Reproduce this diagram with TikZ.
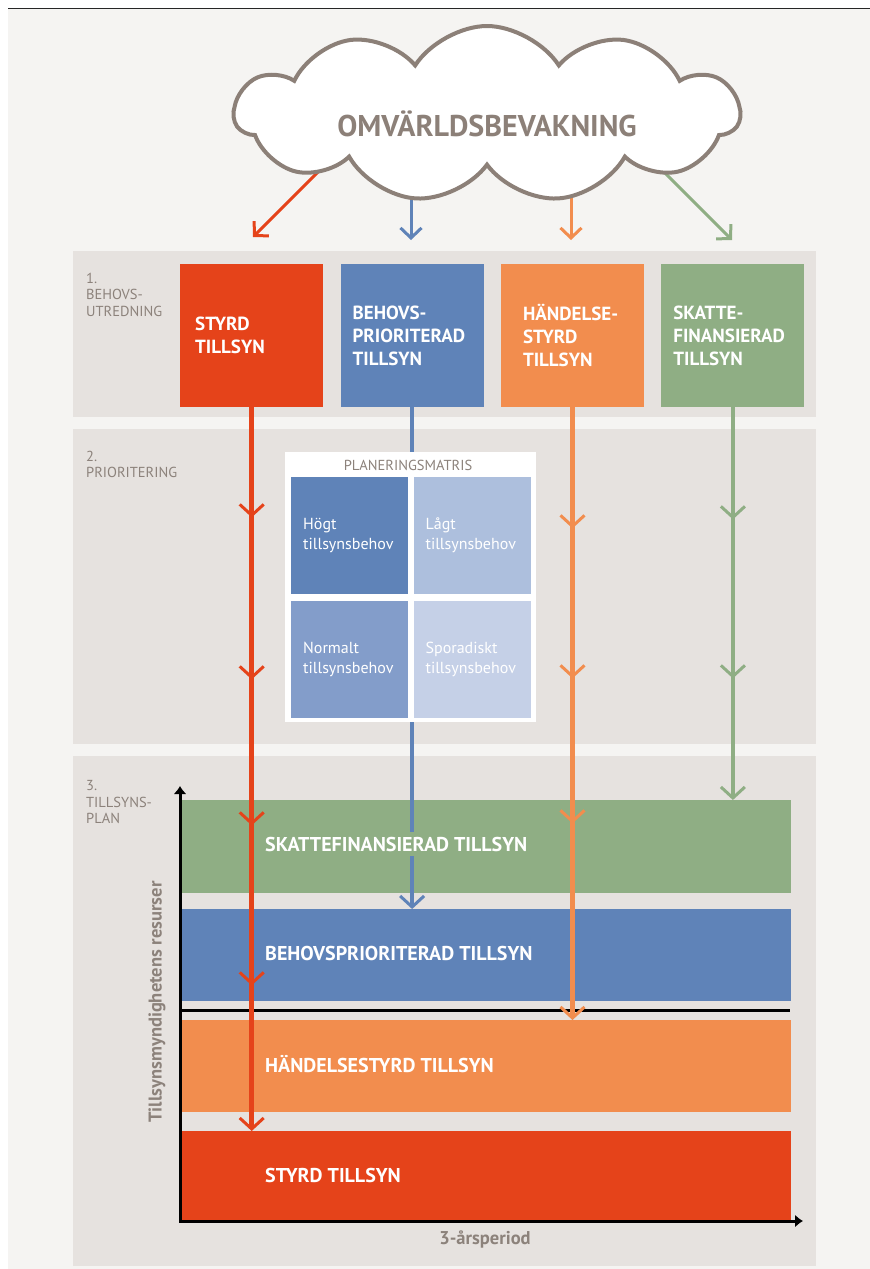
\documentclass[tikz,border=0pt]{standalone}
\usepackage{fontspec}
\setmainfont{PT Sans}
\usetikzlibrary{shapes.symbols,arrows.meta,decorations.markings,positioning}

\definecolor{styrdred}{HTML}{E5431A}
\definecolor{behovblue}{HTML}{5F83B8}
\definecolor{handorange}{HTML}{F28D4E}
\definecolor{skattgreen}{HTML}{8FAE84}
\definecolor{panelgray}{HTML}{E6E2DF}
\definecolor{pagebg}{HTML}{F5F4F2}
\definecolor{labelgray}{HTML}{8C827B}
\definecolor{cloudgray}{HTML}{8C8078}
\definecolor{cellmid}{HTML}{839DCA}
\definecolor{celllight}{HTML}{ADBFDD}
\definecolor{cellpale}{HTML}{C5D0E7}

\pgfdeclarelayer{pagelayer}
\pgfdeclarelayer{underlayer}
\pgfsetlayers{pagelayer,underlayer,main}

\hyphenpenalty=10000

\begin{document}
\begin{tikzpicture}[x=1pt, y=-1pt,
    >={Straight Barb[length=11pt, width=24pt, line width=3pt]},
    panel/.style={fill=panelgray, anchor=north west, inner sep=0pt, minimum width=743pt},
    phase/.style={anchor=north west, inner sep=0pt, align=left, text=labelgray,
      font=\fontsize{14.5}{16.5}\selectfont},
    box/.style={anchor=north west, minimum width=143pt, minimum height=143pt,
      inner xsep=12pt, text width=119pt, align=left, text=white,
      font=\bfseries\fontsize{19}{23}\selectfont},
    cell/.style={minimum width=117pt, minimum height=117pt, inner xsep=12pt,
      text width=93pt, align=left, text=white, font=\fontsize{16}{20}\selectfont},
    bar/.style={anchor=north west, inner sep=0pt, minimum width=610pt},
    barlabel/.style={anchor=base west, inner sep=5pt, text=white,
      font=\bfseries\fontsize{20}{23}\selectfont},
    axislabel/.style={text=labelgray, font=\bfseries\fontsize{18.5}{20}\selectfont},
    cloudarrow/.style={draw=#1, line width=3pt,
      -{Straight Barb[length=10pt, width=21pt, line width=3pt]}},
    flow/.style={color=#1, line width=4.5pt, ->},
    axis/.style={line width=3pt, {Latex[length=8pt, width=13pt]}-{Latex[length=8pt, width=13pt]}}]

  \useasboundingbox (0,0) rectangle (870,1269);

  % page
  \begin{pgfonlayer}{pagelayer}
    \fill[white] (0,0) rectangle (870,1269);
    \fill[pagebg] (8,9) rectangle (870,1269);
    \draw[line width=1.5pt, black!85] (8,8.5) -- (870,8.5);
  \end{pgfonlayer}

  % Cloud
  \node[cloud, cloud puffs=11, cloud puff arc=115, cloud ignores aspect,
    minimum width=505pt, minimum height=176pt, draw=cloudgray, line width=4pt,
    fill=white, text=cloudgray, font=\bfseries\fontsize{30}{32}\selectfont]
    (omv) at (487,114) {\raisebox{-22pt}[0pt][0pt]{OMVÄRLDSBEVAKNING}};

  \coordinate (rtop) at (253,237);
  \coordinate (btop) at (411,240);
  \coordinate (otop) at (571,240);
  \coordinate (gtop) at (732,240);

  \begin{pgfonlayer}{underlayer}
    \draw[cloudarrow=styrdred] ([shift={(75,-75)}]rtop) -- (rtop);
    \draw[cloudarrow=behovblue] (btop |- omv.center) -- (btop);
    \draw[cloudarrow=handorange] (otop |- omv.center) -- (otop);
    \draw[cloudarrow=skattgreen] ([shift={(-75,-75)}]gtop) -- (gtop);
  \end{pgfonlayer}

  % Panels
  \node[panel, minimum height=166pt] (panel1) at (73,251) {};
  \node[panel, minimum height=315pt] (panel2) at (73,429) {};
  \node[panel, minimum height=510pt] (panel3) at (73,756) {};

  \node[phase] (fas1) at (86,272.5) {1.\\BEHOVS-\\UTREDNING};
  \node[phase] (fas2) at (86,450.5) {2.\\PRIORITERING};
  \node[phase] (fas3) at (86,780.5) {3.\\TILLSYNS-\\PLAN};

  % Boxes
  \node[box, fill=styrdred, inner xsep=15pt, text width=113pt] (styrd) at (180,264)
    {STYRD\\TILLSYN};
  \node[box, fill=behovblue, right=17pt of styrd] (behovs)
    {BEHOVS-\\PRIORITERAD\\TILLSYN};
  \node[box, fill=handorange, inner xsep=22pt, text width=99pt, right=17pt of behovs] (handelse)
    {HÄNDELSE-\\STYRD\\TILLSYN};
  \node[box, fill=skattgreen, right=17pt of handelse] (skatt)
    {SKATTE-\\FINANSIERAD\\TILLSYN};

  % Bars
  \node[bar, fill=skattgreen, minimum height=93pt] (skattbar) at (181,800) {};
  \node[bar, fill=behovblue, minimum height=92pt] (behovbar) at (181,909) {};
  \node[bar, fill=handorange, minimum height=92pt] (handbar) at (181,1020) {};
  \node[bar, fill=styrdred, minimum height=90pt] (styrdbar) at (181,1131) {};

  \draw[line width=3pt] (180,1010) -- (790,1010);

  % Flows
  \draw[flow=styrdred, postaction={decorate}, decoration={markings,
      mark=at position 110pt with {\arrow{>}},
      mark=at position 272pt with {\arrow{>}},
      mark=at position 418pt with {\arrow{>}},
      mark=at position 578pt with {\arrow{>}}}]
    (styrd.south) -- (styrd.south |- styrdbar.north);
  \draw[flow=behovblue] (behovs.south) -- (behovs.south |- behovbar.north);
  \draw[flow=handorange, postaction={decorate}, decoration={markings,
      mark=at position 121pt with {\arrow{>}},
      mark=at position 271pt with {\arrow{>}},
      mark=at position 416pt with {\arrow{>}}}]
    (handelse.south) -- (handelse.south |- handbar.north);
  \draw[flow=skattgreen, postaction={decorate}, decoration={markings,
      mark=at position 112pt with {\arrow{>}},
      mark=at position 271pt with {\arrow{>}}}]
    (skatt.south) -- (skatt.south |- skattbar.north);

  % Planeringsmatris
  \node[fill=white, anchor=north west, inner sep=0pt, minimum width=251pt,
    minimum height=270pt] (matris) at (285,452) {};
  \node[text=labelgray, font=\fontsize{14.5}{16}\selectfont] (matristitel) at (408,465)
    {PLANERINGSMATRIS};
  \node[cell, fill=behovblue, anchor=north west] (hogt) at (291,477)
    {Högt\\tillsynsbehov};
  \node[cell, fill=celllight, right=5pt of hogt] (lagt) {Lågt\\tillsynsbehov};
  \node[cell, fill=cellmid, below=6pt of hogt] (normalt) {Normalt\\tillsynsbehov};
  \node[cell, fill=cellpale, right=5pt of normalt] (sporadiskt) {Sporadiskt\\tillsynsbehov};

  % Axes
  \coordinate (origo) at (180,1221);
  \coordinate (ytopp) at (180,786);
  \coordinate (xslut) at (803,1221);
  \draw[axis] (ytopp) -- (origo) -- (xslut);

  \node[barlabel, fill=skattgreen] (skattlbl) at (260,851) {SKATTEFINANSIERAD TILLSYN};
  \node[barlabel, fill=behovblue] (behovlbl) at (260,960) {BEHOVSPRIORITERAD TILLSYN};
  \node[barlabel, fill=handorange] (handlbl) at (260,1072) {HÄNDELSESTYRD TILLSYN};
  \node[barlabel, fill=styrdred] (styrdlbl) at (260,1182) {STYRD TILLSYN};

  \node[axislabel, rotate=90] (resurser) at (157,1002) {Tillsynsmyndighetens resurser};
  \node[axislabel] (period) at (485,1239) {3-årsperiod};
\end{tikzpicture}
\end{document}
